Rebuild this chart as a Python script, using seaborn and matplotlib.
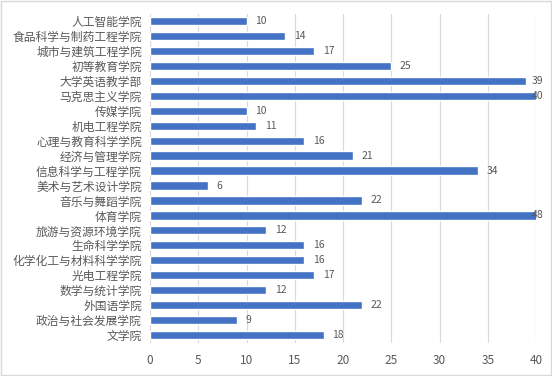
import matplotlib
matplotlib.use("Agg")
import matplotlib.pyplot as plt
import seaborn as sns
import pandas as pd

categories = ["人工智能学院", "食品科学与制药工程学院", "城市与建筑工程学院", "初等教育学院",
              "大学英语教学部", "马克思主义学院", "传媒学院", "机电工程学院", "心理与教育科学学院",
              "经济与管理学院", "信息科学与工程学院", "美术与艺术设计学院", "音乐与舞蹈学院",
              "体育学院", "旅游与资源环境学院", "生命科学学院", "化学化工与材料科学学院",
              "光电工程学院", "数学与统计学院", "外国语学院", "政治与社会发展学院", "文学院"]
values = [10, 14, 17, 25, 39, 40, 10, 11, 16, 21, 34, 6, 22, 48, 12, 16, 16, 17, 12, 22, 9, 18]
xticks = [0, 5, 10, 15, 20, 25, 30, 35, 40]

sns.set_theme(style="white")
plt.rcParams['font.family'] = ['Noto Sans CJK SC', 'DejaVu Sans']

df = pd.DataFrame({"cat": categories, "val": values})

fig = plt.figure(figsize=(5.52, 3.76), dpi=100)
ax = fig.add_axes([0.272, 0.089, 0.699, 0.875])
sns.barplot(data=df, x="val", y="cat", orient="h", color="#4472C4", width=0.55,
            saturation=1, ax=ax, zorder=3)
ax.set_xlim(0, 40)
ax.set_xticks(xticks)
ax.set_xlabel("")
ax.set_ylabel("")
ax.grid(axis="x", color="#D9D9D9", linewidth=0.8, zorder=0)
ax.grid(axis="y", visible=False)
for s in ax.spines.values():
    s.set_visible(False)
ax.tick_params(axis="both", length=0, labelsize=8.5, colors="#595959")
ax.tick_params(axis="x", pad=8)
ax.tick_params(axis="y", pad=6)

for i, v in enumerate(values):
    ax.text(min(v + 0.9, 39.6), i, str(v), va="center", ha="left",
            fontsize=7.5, color="#595959", zorder=4, clip_on=False)

border = plt.Rectangle((0.002, 0.002), 0.996, 0.996, transform=fig.transFigure,
                       fill=False, edgecolor="#D9D9D9", linewidth=1)
fig.patches.append(border)

fig.savefig("out.png", dpi=100)
